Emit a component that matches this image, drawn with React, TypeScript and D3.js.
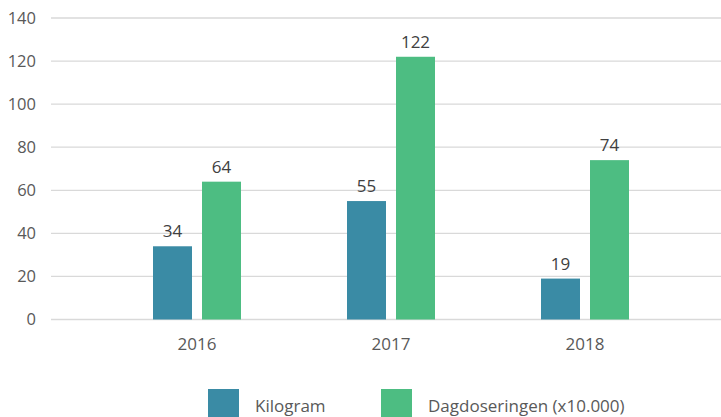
import React from "react";
import * as d3 from "d3";

const categories = ["2016", "2017", "2018"];
const seriesNames = ["Kilogram", "Dagdoseringen (x10.000)"];
const kilogram = [34, 55, 19];
const dagdoseringen = [64, 122, 74];
const yTicks = [0, 20, 40, 60, 80, 100, 120, 140];
const colors = ["#3A8BA5", "#4DBD82"];

const W = 721;
const H = 417;
const FONT = "'Open Sans', sans-serif";

export default function App() {
  const x = d3.scaleBand<string>().domain(categories).range([100, 682]).paddingInner(0).paddingOuter(0);
  const y = d3.scaleLinear().domain([0, 140]).range([319.5, 18]);
  const barW = 39;
  const gap = 10;
  const series = [kilogram, dagdoseringen];

  return (
    <svg width={W} height={H} style={{ position: "absolute", left: 0, top: 0, background: "#fff" }}>
      {yTicks.map((t) => (
        <g key={t}>
          <line x1={51} x2={721} y1={y(t)} y2={y(t)} stroke="#d9d9d9" strokeWidth={1.3} />
          <text x={36} y={y(t)} dy="0.35em" textAnchor="end" fontFamily={FONT} fontSize={16.5} fill="#595959">
            {t}
          </text>
        </g>
      ))}
      {categories.map((c, i) => {
        const cx = (x(c) as number) + x.bandwidth() / 2;
        return (
          <g key={c}>
            {series.map((s, si) => {
              const bx = si === 0 ? cx - gap / 2 - barW : cx + gap / 2;
              const v = s[i];
              return (
                <g key={si}>
                  <rect x={bx} y={y(v)} width={barW} height={y(0) - y(v)} fill={colors[si]} />
                  <text x={bx + barW / 2} y={y(v) - 9} textAnchor="middle" fontFamily={FONT} fontSize={17} fill="#404040">
                    {v}
                  </text>
                </g>
              );
            })}
            <text x={cx} y={350} textAnchor="middle" fontFamily={FONT} fontSize={17} fill="#595959">
              {c}
            </text>
          </g>
        );
      })}
      {seriesNames.map((n, i) => {
        const lx = i === 0 ? 208 : 381;
        return (
          <g key={n}>
            <rect x={lx} y={389} width={31} height={28} fill={colors[i]} />
            <text x={lx + 47} y={411.5} fontFamily={FONT} fontSize={17} fill="#595959">
              {n}
            </text>
          </g>
        );
      })}
    </svg>
  );
}
